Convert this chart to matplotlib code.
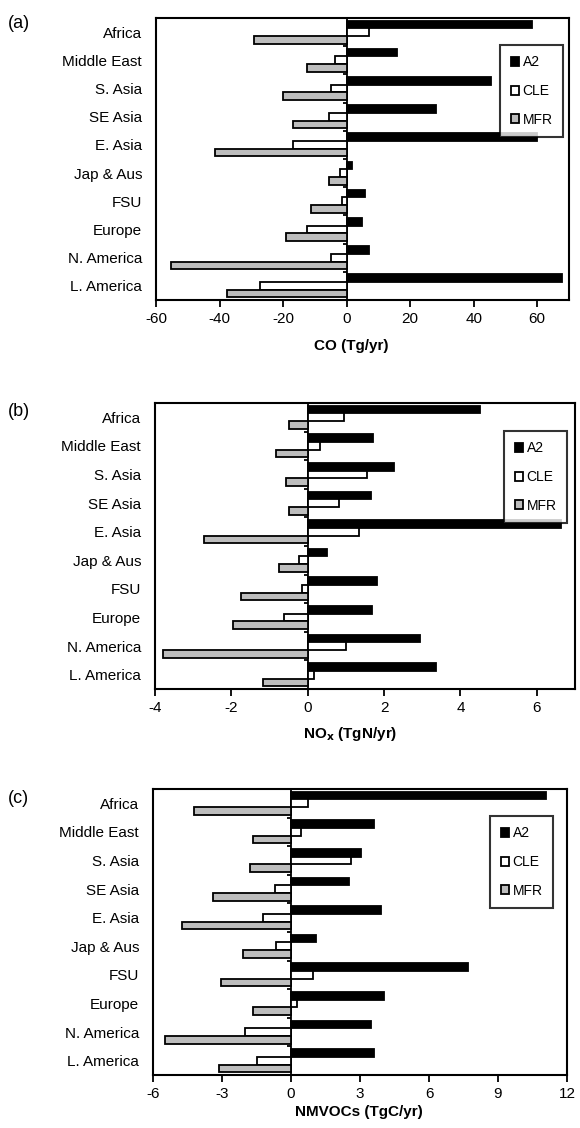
import matplotlib
matplotlib.use("Agg")
import matplotlib.pyplot as plt
import numpy as np

plt.rcParams['font.family'] = ['Liberation Sans', 'DejaVu Sans']

regions = ["Africa", "Middle East", "S. Asia", "SE Asia", "E. Asia",
           "Jap & Aus", "FSU", "Europe", "N. America", "L. America"]
series = ["A2", "CLE", "MFR"]

co_a2 = [58.3, 16.0, 45.5, 28.0, 59.8, 1.7, 5.8, 4.8, 7.2, 67.9]
co_cle = [7.0, -3.8, -4.9, -5.7, -16.9, -2.0, -1.4, -12.5, -4.9, -27.3]
co_mfr = [-29.0, -12.5, -20.0, -16.9, -41.5, -5.5, -11.2, -19.1, -55.3, -37.6]

nox_a2 = [4.5, 1.72, 2.25, 1.67, 6.64, 0.5, 1.81, 1.69, 2.95, 3.36]
nox_cle = [0.96, 0.31, 1.54, 0.83, 1.33, -0.22, -0.15, -0.61, 1.01, 0.17]
nox_mfr = [-0.49, -0.84, -0.57, -0.49, -2.71, -0.74, -1.74, -1.95, -3.79, -1.16]

voc_a2 = [11.1, 3.6, 3.03, 2.52, 3.9, 1.1, 7.7, 4.05, 3.46, 3.6]
voc_cle = [0.75, 0.45, 2.6, -0.7, -1.2, -0.64, 0.96, 0.27, -1.98, -1.5]
voc_mfr = [-4.2, -1.65, -1.8, -3.4, -4.75, -2.1, -3.05, -1.65, -5.5, -3.14]

panels = [
    dict(tag="(a)", data=[co_a2, co_cle, co_mfr], xlim=(-60, 70),
         xticks=[-60, -40, -20, 0, 20, 40, 60], xlabel="CO (Tg/yr)",
         px=(156, 569, 18, 300), leg=(563, 45), lab=(351, 346), tagy=15),
    dict(tag="(b)", data=[nox_a2, nox_cle, nox_mfr], xlim=(-4, 7),
         xticks=[-4, -2, 0, 2, 4, 6], xlabel=r"NO$_\mathbf{x}$ (TgN/yr)",
         px=(155, 575, 403, 689), leg=(567, 431), lab=(350, 734), tagy=403),
    dict(tag="(c)", data=[voc_a2, voc_cle, voc_mfr], xlim=(-6, 12),
         xticks=[-6, -3, 0, 3, 6, 9, 12], xlabel="NMVOCs (TgC/yr)",
         px=(153, 567, 789, 1075), leg=(553, 816), lab=(359, 1112), tagy=790),
]

colors = ["black", "white", "#bdbdbd"]
W, H = 580, 1128
fig = plt.figure(figsize=(W / 100, H / 100), dpi=100)

n = len(regions)
ypos = np.arange(n)[::-1].astype(float)
bh = 0.27
offsets = [bh, 0.0, -bh]

for p in panels:
    l, r, t, b = p["px"]
    ax = fig.add_axes([l / W, 1 - b / H, (r - l) / W, (b - t) / H])
    for vals, c, off, name in zip(p["data"], colors, offsets, series):
        ax.barh(ypos + off, vals, height=bh, color=c, edgecolor="black",
                linewidth=1.3, label=name, zorder=2)
    ax.set_xlim(*p["xlim"])
    ax.set_ylim(-0.5, n - 0.5)
    ax.set_xticks(p["xticks"])
    ax.set_xticklabels([str(v) for v in p["xticks"]], fontsize=11)
    ax.set_yticks(ypos)
    ax.set_yticklabels(regions, fontsize=11)
    ax.tick_params(axis="y", length=0, pad=10)
    ax.tick_params(axis="x", direction="out", length=5, width=1.3, pad=3.5)
    for s in ax.spines.values():
        s.set_linewidth(1.5)
    # zero line with small group-boundary ticks
    x0, x1 = p["xlim"]
    loc = (0 - x0) / (x1 - x0)
    sec = ax.secondary_yaxis(loc)
    sec.set_ticks(np.arange(-0.5, n - 0.4, 1.0))
    sec.set_yticklabels([])
    sec.tick_params(direction="out", length=3, width=1.3)
    sec.spines["left"].set_linewidth(1.3)
    lx, ly = p["leg"]
    leg = ax.legend(loc="upper right",
                    bbox_to_anchor=(lx / W, 1 - ly / H),
                    bbox_transform=fig.transFigure, fontsize=10,
                    frameon=True, fancybox=False, edgecolor="black",
                    handlelength=0.6, handleheight=0.6, handletextpad=0.25,
                    labelspacing=1.05, borderpad=0.75, borderaxespad=0.0)
    leg.get_frame().set_linewidth(1.5)
    fig.text(p["lab"][0] / W, 1 - p["lab"][1] / H, p["xlabel"], fontsize=11,
             fontweight="bold", ha="center", va="center")
    fig.text(8 / W, 1 - p["tagy"] / H, p["tag"], fontsize=13, va="top", ha="left")

fig.savefig("out.png", dpi=100)
